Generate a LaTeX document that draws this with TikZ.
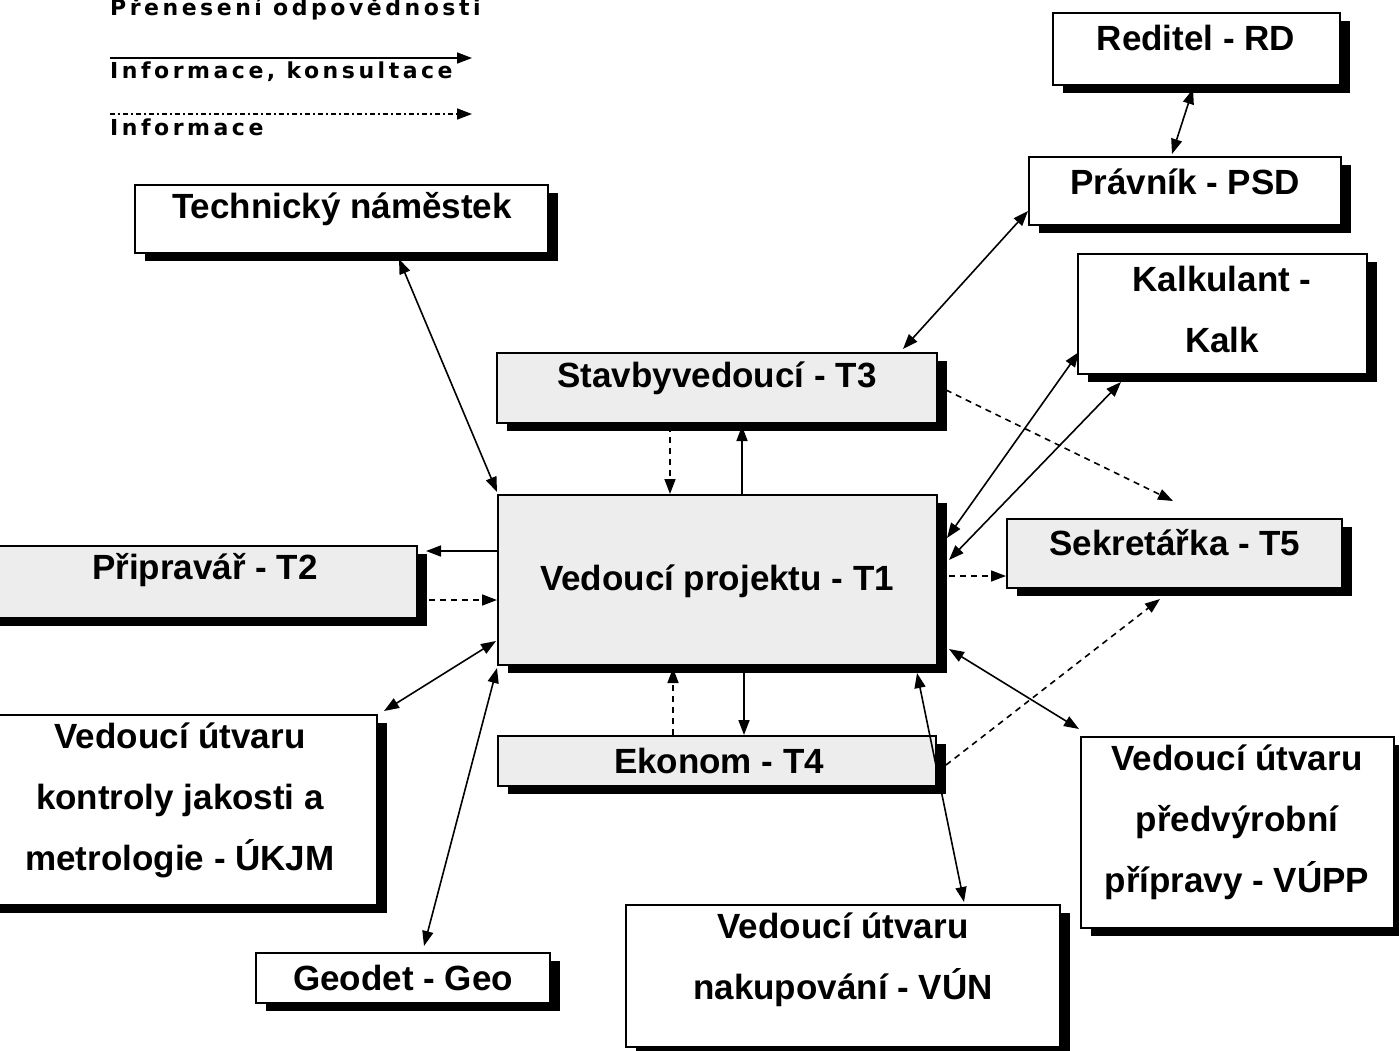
\documentclass[tikz,border=0pt]{standalone}
\usepackage{fontspec}
\setmainfont{Liberation Sans}
\newfontfamily\legfont[LetterSpace=16]{DejaVu Sans Bold}
\usetikzlibrary{arrows.meta,shadows,calc}
\begin{document}
\begin{tikzpicture}[x=1pt,y=-1pt,
  box/.style={draw, line width=2pt, rectangle, inner sep=0pt, fill=white,
    drop shadow={shadow xshift=10pt, shadow yshift=-8pt, fill=black, opacity=1}},
  gbox/.style={box, fill=black!7},
  lbl/.style={font=\fontsize{35}{61}\selectfont\bfseries, align=center, inner sep=0pt},
  leg/.style={font={\legfont\fontsize{22}{26}\selectfont}, inner sep=0pt, anchor=base west},
  conn/.style={line width=1.6pt, {Triangle[length=15pt,width=11pt]}-{Triangle[length=15pt,width=11pt]}},
  one/.style={line width=1.6pt, -{Triangle[length=15pt,width=11pt]}},
  dsh/.style={one, dash pattern=on 6pt off 5pt},
  dshdot/.style={one, dash pattern=on 5pt off 3pt on 2pt off 3pt}]
\useasboundingbox (0,0) rectangle (1399,1050);

% legend
\node[leg] (lg1) at (110,15) {Přenesení odpovědnosti};
\coordinate (l1a) at (110,58); \coordinate (l1b) at (472,58);
\draw[one] (l1a) -- (l1b);
\node[leg] (lg2) at (110,78) {Informace, konsultace};
\coordinate (l2a) at (110,114); \coordinate (l2b) at (472,114);
\draw[dshdot] (l2a) -- (l2b);
\node[leg] (lg3) at (110,135) {Informace};

% boxes
\node[box, minimum width=287pt, minimum height=72pt] (rd) at (1196.5,49) {};
\node[lbl] (rdl) at (1196,38) {Reditel - RD};
\node[box, minimum width=312pt, minimum height=68pt] (psd) at (1185,191) {};
\node[lbl] (psdl) at (1185,182) {Právník - PSD};
\node[box, minimum width=289pt, minimum height=120pt] (kalk) at (1222.5,314) {};
\node[lbl] (kalkl) at (1222,309) {Kalkulant -\\Kalk};
\node[box, minimum width=413pt, minimum height=68pt] (tech) at (341.5,219) {};
\node[lbl] (techl) at (342,209) {Technický náměstek};
\node[gbox, minimum width=440pt, minimum height=70pt] (t3) at (717,388) {};
\node[lbl] (t3l) at (717,378) {Stavbyvedoucí - T3};
\node[gbox, minimum width=439pt, minimum height=170pt] (t1) at (717.5,580) {};
\node[lbl] (t1l) at (717,581) {Vedoucí projektu - T1};
\node[gbox, minimum width=335pt, minimum height=69pt] (t5) at (1174.5,553.5) {};
\node[lbl] (t5l) at (1175,543) {Sekretářka - T5};
\node[gbox, minimum width=427pt, minimum height=72pt] (t2) at (203.5,582) {};
\node[lbl] (t2l) at (205,570) {Připravář - T2};
\node[box, minimum width=387pt, minimum height=190pt] (ukjm) at (183.5,810) {};
\node[lbl] (ukjml) at (180,800) {Vedoucí útvaru\\kontroly jakosti a\\metrologie - ÚKJM};
\node[box, minimum width=294pt, minimum height=50pt] (geo) at (403,978) {};
\node[lbl] (geol) at (403,978) {Geodet - Geo};
\node[gbox, minimum width=438pt, minimum height=50pt] (t4) at (717,761) {};
\node[lbl] (t4l) at (719,761) {Ekonom - T4};
\node[box, minimum width=434pt, minimum height=142pt] (vun) at (843,976) {};
\node[lbl] (vunl) at (843,960) {Vedoucí útvaru\\nakupování - VÚN};
\node[box, minimum width=313pt, minimum height=191pt] (vupp) at (1237.5,832.5) {};
\node[lbl] (vuppl) at (1237,822) {Vedoucí útvaru\\předvýrobní\\přípravy - VÚPP};

% connectors
\draw[conn] ($(tech.south west)+(265,5)$) -- ($(t1.north west)+(0,-2)$);
\draw[conn] ($(psd.south west)+(0,-15)$) -- ($(t3.north east)+(-35,-3)$);
\draw[conn] ($(rd.south west)+(141,3)$) -- ($(psd.north west)+(144,-2)$);
\draw[one] ($(t1.north)+(24.5,0)$) -- ($(t3.south)+(25,2)$);
\draw[dsh] ($(t3.south)+(-47,2)$) -- ($(t1.north)+(-47.5,0)$);
\draw[dsh] ($(t3.east)+(8,2)$) -- ($(t5.north)+(-1.5,-17)$);
\draw[conn] ($(kalk.west)+(2,38)$) -- ($(t1.east)+(9,-42)$);
\draw[conn] ($(kalk.south west)+(44,7)$) -- ($(t1.east)+(11,-20)$);
\draw[dsh] ($(t1.east)+(11,-4)$) -- ($(t5.west)+(0,22.5)$);
\draw[dsh] ($(t4.east)+(9,4)$) -- ($(t5.south)+(-14.5,10)$);
\draw[conn] ($(t1.south east)+(11,-17)$) -- ($(vupp.north west)+(-1,-7)$);
\draw[conn] ($(t1.south east)+(-21,7)$) -- ($(vun.north west)+(339,-2)$);
\draw[one] ($(t1.south)+(26.5,0)$) -- ($(t4.north)+(27,0)$);
\draw[dsh] ($(t4.north)+(-44,0)$) -- ($(t1.south)+(-44.5,2)$);
\draw[one] ($(t1.west)+(0,-29)$) -- ($(t2.east)+(8,-31)$);
\draw[dsh] ($(t2.east)+(11,18)$) -- ($(t1.west)+(0,20)$);
\draw[conn] ($(ukjm.north east)+(6,-3)$) -- ($(t1.west)+(-1,61)$);
\draw[conn] ($(geo.north west)+(169,-6)$) -- ($(t1.south west)+(0,2)$);
\end{tikzpicture}
\end{document}
